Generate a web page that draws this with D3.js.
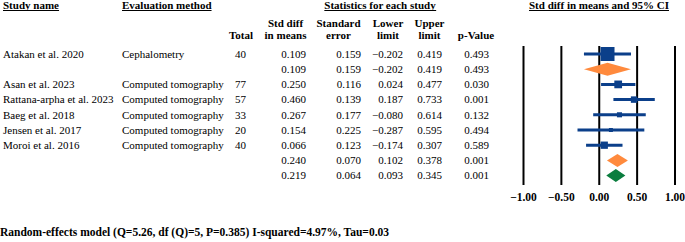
<!DOCTYPE html>
<html>
<head>
<meta charset="utf-8">
<script src="https://cdn.jsdelivr.net/npm/d3@7"></script>
<style>
  body { margin: 0; background: #fff; }
  svg { display: block; font-family: "Liberation Serif", "Times New Roman", serif; }
</style>
</head>
<body>
<div id="vis"></div>
<script>
const WIDTH = 685;
const HEIGHT = 242;

// filas del forest plot (estudios + resúmenes)
const studyNames = ["Atakan et al. 2020", "", "Asan et al. 2023", "Rattana-arpha et al. 2023",
  "Baeg et al. 2018", "Jensen et al. 2017", "Moroi et al. 2016", "", ""];
const methods = ["Cephalometry", "", "Computed tomography", "Computed tomography",
  "Computed tomography", "Computed tomography", "Computed tomography", "", ""];
const totals = ["40", "", "77", "57", "33", "20", "40", "", ""];
const stdDiff = [0.109, 0.109, 0.250, 0.460, 0.267, 0.154, 0.066, 0.240, 0.219];
const stdErr = [0.159, 0.159, 0.116, 0.139, 0.177, 0.225, 0.123, 0.070, 0.064];
const lower = [-0.202, -0.202, 0.024, 0.187, -0.080, -0.287, -0.174, 0.102, 0.093];
const upper = [0.419, 0.419, 0.477, 0.733, 0.614, 0.595, 0.307, 0.378, 0.345];
const pValues = ["0.493", "0.493", "0.030", "0.001", "0.132", "0.494", "0.589", "0.001", "0.001"];
// tipo de marca: estudio, resumen de subgrupo, resumen global
const rowKind = ["study", "sub", "study", "study", "study", "study", "study", "sub", "overall"];
const subgroup = [0, 0, 1, 1, 1, 1, 1, 1, null];
const ticks = [-1, -0.5, 0, 0.5, 1];
const footer = "Random-effects model (Q=5.26, df (Q)=5, P=0.385) I-squared=4.97%, Tau=0.03";

const BLUE = "#0b3f8a";
const ORANGE = "#ff8a3d";
const GREEN = "#0a7d3e";

const rows = stdDiff.map((v, i) => ({
  name: studyNames[i], method: methods[i], total: totals[i],
  est: v, se: stdErr[i], lo: lower[i], hi: upper[i], p: pValues[i],
  kind: rowKind[i], group: subgroup[i]
}));

// peso relativo dentro de cada subgrupo (1/se^2)
const groupSum = {};
rows.filter(d => d.kind === "study").forEach(d => {
  groupSum[d.group] = (groupSum[d.group] || 0) + 1 / (d.se * d.se);
});
rows.forEach(d => {
  if (d.kind === "study") d.weight = (1 / (d.se * d.se)) / groupSum[d.group];
});

const svg = d3.select("#vis").append("svg")
  .attr("width", WIDTH)
  .attr("height", HEIGHT);

const y = d3.scalePoint()
  .domain(d3.range(rows.length))
  .range([54, 175.6]);

const x = d3.scaleLinear()
  .domain([-1, 1])
  .range([523.5, 675]);

const size = d3.scaleSqrt().domain([0, 1]).range([0, 14]);

// ---- encabezados ----
const head = svg.append("g").attr("font-weight", "bold").attr("font-size", 11);

const topHeaders = [
  { text: "Study name", x: 3, anchor: "start" },
  { text: "Evaluation method", x: 122, anchor: "start" },
  { text: "Statistics for each study", x: 380, anchor: "middle" },
  { text: "Std diff in means and 95% CI", x: 599, anchor: "middle" }
];

topHeaders.forEach(h => {
  const t = head.append("text")
    .attr("x", h.x).attr("y", 8.5)
    .attr("text-anchor", h.anchor)
    .text(h.text);
  const bb = t.node().getBBox();
  head.append("line")
    .attr("x1", bb.x).attr("x2", bb.x + bb.width)
    .attr("y1", 10.5).attr("y2", 10.5)
    .attr("stroke", "#000").attr("stroke-width", 1.2);
});

const colHeaders = [
  { lines: ["", "Total"], x: 241 },
  { lines: ["Std diff", "in means"], x: 285.5 },
  { lines: ["Standard", "error"], x: 338.5 },
  { lines: ["Lower", "limit"], x: 388 },
  { lines: ["Upper", "limit"], x: 429.5 },
  { lines: ["", "p-Value"], x: 476 }
];

colHeaders.forEach(c => {
  c.lines.forEach((l, j) => {
    head.append("text")
      .attr("x", c.x).attr("y", 27 + j * 11.5)
      .attr("text-anchor", "middle")
      .text(l);
  });
});

// ---- tabla ----
const fmt = d3.format(".3f");
const table = svg.append("g").attr("font-size", 11);

const cols = [
  { get: d => d.name, x: 3, anchor: "start" },
  { get: d => d.method, x: 122, anchor: "start" },
  { get: d => d.total, x: 240.5, anchor: "middle" },
  { get: d => fmt(d.est), x: 306, anchor: "end" },
  { get: d => fmt(d.se), x: 361, anchor: "end" },
  { get: d => fmt(d.lo), x: 403, anchor: "end" },
  { get: d => fmt(d.hi), x: 442, anchor: "end" },
  { get: d => d.p, x: 489, anchor: "end" }
];

cols.forEach(c => {
  table.append("g")
    .selectAll("text")
    .data(rows)
    .join("text")
    .attr("x", c.x)
    .attr("y", (d, i) => y(i) + 3.8)
    .attr("text-anchor", c.anchor)
    .text(c.get);
});

// ---- forest plot ----
const plot = svg.append("g");

plot.selectAll("line.ref")
  .data(ticks)
  .join("line")
  .attr("class", "ref")
  .attr("x1", d => x(d)).attr("x2", d => x(d))
  .attr("y1", 46).attr("y2", 185)
  .attr("stroke", "#000")
  .attr("stroke-width", 2);

plot.append("g")
  .attr("font-size", 11.5)
  .attr("font-weight", "bold")
  .attr("text-anchor", "middle")
  .selectAll("text")
  .data(ticks)
  .join("text")
  .attr("x", d => x(d))
  .attr("y", 200.5)
  .text(d3.format(".2f"));

const studies = rows.map((d, i) => ({ ...d, i })).filter(d => d.kind === "study");

plot.selectAll("line.ci")
  .data(studies)
  .join("line")
  .attr("class", "ci")
  .attr("x1", d => x(d.lo)).attr("x2", d => x(d.hi))
  .attr("y1", d => y(d.i)).attr("y2", d => y(d.i))
  .attr("stroke", BLUE)
  .attr("stroke-width", 3);

plot.selectAll("rect.box")
  .data(studies)
  .join("rect")
  .attr("class", "box")
  .attr("x", d => x(d.est) - size(d.weight) / 2)
  .attr("y", d => y(d.i) - size(d.weight) / 2)
  .attr("width", d => size(d.weight))
  .attr("height", d => size(d.weight))
  .attr("fill", BLUE);

const summaries = rows.map((d, i) => ({ ...d, i })).filter(d => d.kind !== "study");

plot.selectAll("path.diamond")
  .data(summaries)
  .join("path")
  .attr("class", "diamond")
  .attr("d", d => {
    const cy = y(d.i), h = 6.5;
    return `M${x(d.lo)},${cy}L${x(d.est)},${cy - h}L${x(d.hi)},${cy}L${x(d.est)},${cy + h}Z`;
  })
  .attr("fill", d => d.kind === "overall" ? GREEN : ORANGE);

// ---- pie ----
svg.append("text")
  .attr("x", 0)
  .attr("y", 236)
  .attr("font-size", 11.5)
  .attr("font-weight", "bold")
  .text(footer);
</script>
</body>
</html>
